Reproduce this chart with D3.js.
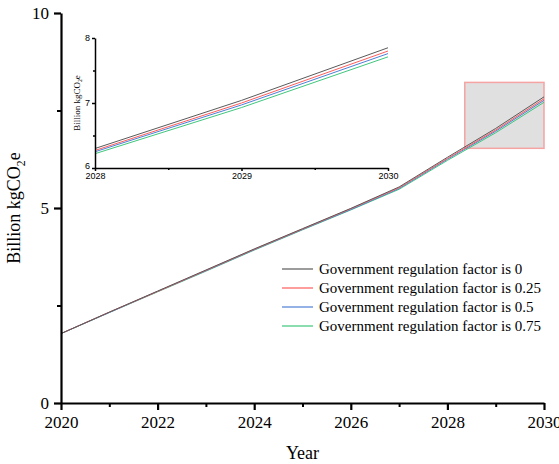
<!DOCTYPE html>
<html>
<head>
<meta charset="utf-8">
<script src="https://cdn.jsdelivr.net/npm/d3@7"></script>
<style>
  html, body { margin: 0; padding: 0; background: #fff; }
  svg { display: block; }
</style>
</head>
<body>
<svg id="chart" width="559" height="464"></svg>
<script>
// Projected emissions (billion kgCO2e) under different government regulation factors
const years = [2020, 2021, 2022, 2023, 2024, 2025, 2026, 2027, 2028, 2029, 2030];
const factor0    = [1.78, 2.33, 2.87, 3.41, 3.95, 4.47, 4.99, 5.54, 6.30, 7.04, 7.85];
const factor025  = [1.78, 2.33, 2.86, 3.40, 3.94, 4.46, 4.98, 5.52, 6.27, 7.00, 7.80];
const factor05   = [1.78, 2.32, 2.86, 3.39, 3.93, 4.45, 4.96, 5.50, 6.25, 6.97, 7.76];
const factor075  = [1.78, 2.32, 2.85, 3.38, 3.92, 4.44, 4.95, 5.48, 6.22, 6.93, 7.71];
const seriesNames = [
  "Government regulation factor is 0",
  "Government regulation factor is 0.25",
  "Government regulation factor is 0.5",
  "Government regulation factor is 0.75"
];
const seriesColors = ["#5a5a5a", "#ff5c5c", "#4f7fd6", "#3fc77c"];
const mainXTicks = [2020, 2022, 2024, 2026, 2028, 2030];
const mainYTicks = [0, 5, 10];
const insetXTicks = [2028, 2029, 2030];
const insetYTicks = [6, 7, 8];
// zoom window shown in the inset
const zoomYears = [2028.36, 2030];
const zoomValues = [6.53, 8.22];

const seriesValues = [factor0, factor025, factor05, factor075];
const series = seriesValues.map((vals, i) => ({
  name: seriesNames[i],
  color: seriesColors[i],
  points: years.map((y, j) => ({ year: y, value: vals[j] }))
}));

const svg = d3.select("#chart");
const serif = "'Liberation Serif', 'Times New Roman', serif";
const sans = "'Liberation Sans', Arial, sans-serif";

// ---- main plot ----
const x = d3.scaleLinear().domain([2020, 2030]).range([61, 544]);
const y = d3.scaleLinear().domain([0, 10]).range([403, 13]);

// highlighted zoom region
svg.append("rect")
  .attr("x", x(zoomYears[0]))
  .attr("y", y(zoomValues[1]))
  .attr("width", x(zoomYears[1]) - x(zoomYears[0]))
  .attr("height", y(zoomValues[0]) - y(zoomValues[1]))
  .attr("fill", "#e0e0e0")
  .attr("stroke", "#f5a3a3")
  .attr("stroke-width", 1.5);

const line = d3.line().x(d => x(d.year)).y(d => y(d.value));
svg.append("g").selectAll("path")
  .data(series.slice().reverse())
  .join("path")
  .attr("d", d => line(d.points))
  .attr("fill", "none")
  .attr("stroke", d => d.color)
  .attr("stroke-width", 1);

function styleAxis(g, width, fontSize, family) {
  g.attr("font-family", null).attr("font-size", null);
  g.selectAll(".domain").attr("stroke", "#000").attr("stroke-width", width);
  g.selectAll(".tick line").attr("stroke", "#000").attr("stroke-width", width);
  g.selectAll(".tick text").attr("fill", "#000")
    .style("font-size", fontSize + "px").style("font-family", family);
}

// minor ticks
svg.append("g")
  .attr("transform", "translate(0,403)")
  .call(d3.axisBottom(x).tickValues([2021, 2023, 2025, 2027, 2029]).tickSize(4).tickFormat(""))
  .call(g => g.select(".domain").remove())
  .call(g => g.selectAll("line").attr("stroke", "#000").attr("stroke-width", 2));
svg.append("g")
  .attr("transform", "translate(61,0)")
  .call(d3.axisLeft(y).tickValues([2.5, 7.5]).tickSize(4).tickFormat(""))
  .call(g => g.select(".domain").remove())
  .call(g => g.selectAll("line").attr("stroke", "#000").attr("stroke-width", 2));

svg.append("g")
  .attr("transform", "translate(0,403)")
  .call(d3.axisBottom(x).tickValues(mainXTicks).tickSize(7).tickSizeOuter(0).tickPadding(6).tickFormat(d3.format("d")))
  .call(g => styleAxis(g, 2.2, 17, serif));
svg.append("g")
  .attr("transform", "translate(61,0)")
  .call(d3.axisLeft(y).tickValues(mainYTicks).tickSize(7).tickSizeOuter(0).tickPadding(5).tickFormat(d3.format("d")))
  .call(g => styleAxis(g, 2.2, 17, serif));

svg.append("text")
  .attr("x", (x.range()[0] + x.range()[1]) / 2)
  .attr("y", 459)
  .attr("text-anchor", "middle")
  .style("font-family", serif)
  .style("font-size", "18px")
  .text("Year");

function yLabel(g, cx, cy, size) {
  const t = g.append("text")
    .attr("transform", `translate(${cx},${cy}) rotate(-90)`)
    .attr("text-anchor", "middle")
    .style("font-family", serif)
    .style("font-size", size + "px");
  t.append("tspan").text("Billion kgCO");
  t.append("tspan").style("font-size", (size * 0.65) + "px").attr("dy", size * 0.25).text("2");
  t.append("tspan").attr("dy", -size * 0.25).text("e");
}
yLabel(svg, 20, 208, 18);

// ---- legend ----
const legend = svg.append("g");
series.forEach((s, i) => {
  const ly = 269 + i * 19;
  legend.append("line")
    .attr("x1", 282).attr("x2", 313).attr("y1", ly).attr("y2", ly)
    .attr("stroke", s.color).attr("stroke-width", 1.2);
  legend.append("text")
    .attr("x", 319).attr("y", ly + 5)
    .style("font-family", serif).style("font-size", "15px")
    .text(s.name);
});

// ---- inset ----
const ix = d3.scaleLinear().domain([2028, 2030]).range([95, 388]);
const iy = d3.scaleLinear().domain([6, 8]).range([168, 38]);
const inset = svg.append("g");
const iline = d3.line().x(d => ix(d.year)).y(d => iy(d.value));
inset.append("g").selectAll("path")
  .data(series)
  .join("path")
  .attr("d", d => iline(d.points.filter(p => p.year >= 2028)))
  .attr("fill", "none")
  .attr("stroke", d => d.color)
  .attr("stroke-width", 1);

inset.append("g")
  .attr("transform", "translate(0,168)")
  .call(d3.axisBottom(ix).tickValues([2028.5, 2029.5]).tickSize(2).tickFormat(""))
  .call(g => g.select(".domain").remove())
  .call(g => g.selectAll("line").attr("stroke", "#000").attr("stroke-width", 1.5));
inset.append("g")
  .attr("transform", "translate(95,0)")
  .call(d3.axisLeft(iy).tickValues([6.5, 7.5]).tickSize(2).tickFormat(""))
  .call(g => g.select(".domain").remove())
  .call(g => g.selectAll("line").attr("stroke", "#000").attr("stroke-width", 1.5));

inset.append("g")
  .attr("transform", "translate(0,168)")
  .call(d3.axisBottom(ix).tickValues(insetXTicks).tickSize(3).tickSizeOuter(0).tickPadding(2).tickFormat(d3.format("d")))
  .call(g => styleAxis(g, 1.5, 9, sans));
inset.append("g")
  .attr("transform", "translate(95,0)")
  .call(d3.axisLeft(iy).tickValues(insetYTicks).tickSize(3).tickSizeOuter(0).tickPadding(2).tickFormat(d3.format("d")))
  .call(g => styleAxis(g, 1.5, 9, sans))
  .call(g => g.selectAll(".tick text").filter(d => d === 6).attr("dy", "0.1em"));

yLabel(inset, 80, 103, 9);
</script>
</body>
</html>
